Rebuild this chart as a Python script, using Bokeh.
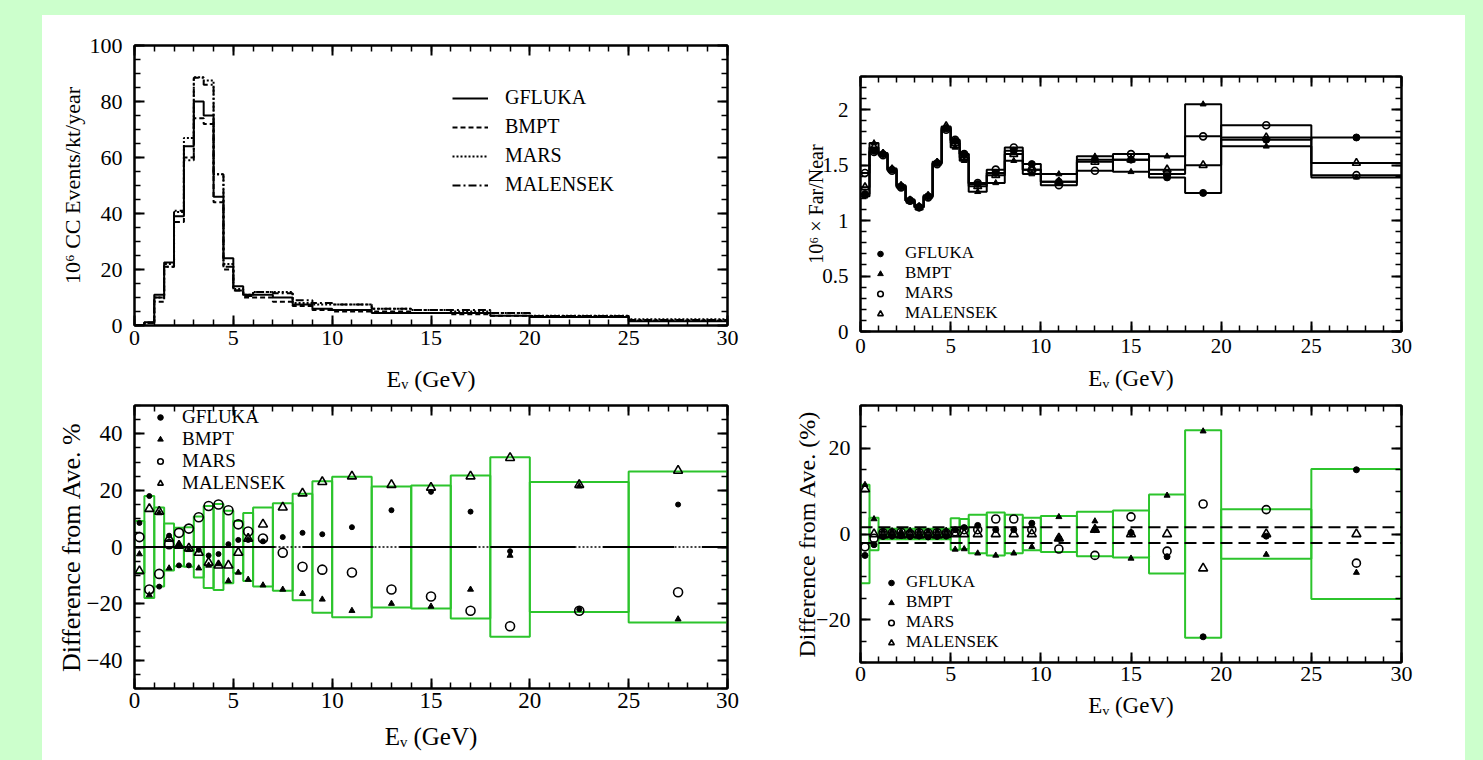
from bokeh.plotting import figure
from bokeh.models import (Range1d, LinearAxis, SingleIntervalTicker, Legend, LegendItem,
                          Span, Spacer, NumeralTickFormatter)
from bokeh.layouts import column, row
from bokeh.embed import file_html
from bokeh.resources import INLINE

# ---------------- data ----------------
bin_edges = [0, 0.5, 1, 1.5, 2, 2.5, 3, 3.5, 4, 4.5, 5, 5.5, 6, 7, 8, 9, 10, 12, 14, 16, 18, 20, 25, 30]
bin_centers = [0.25, 0.75, 1.25, 1.75, 2.25, 2.75, 3.25, 3.75, 4.25, 4.75, 5.25, 5.75,
               6.5, 7.5, 8.5, 9.5, 11, 13, 15, 17, 19, 22.5, 27.5]
models = ["GFLUKA", "BMPT", "MARS", "MALENSEK"]

# top-left: 10^6 CC events / kt / year
rate_gfluka = [0, 1.2, 11, 22.5, 39, 64, 80, 75, 46, 24, 14, 11, 11, 10, 7.5, 6, 5.5, 4.5, 4.5, 4.5, 3.5, 3.0, 1.5]
rate_bmpt = [0, 1.0, 8.5, 21, 37, 60, 74, 72, 44, 20, 12.5, 10, 10, 8.5, 7, 5.5, 5, 5, 4.5, 4, 3.5, 3.2, 1.8]
rate_mars = [0, 1.0, 10, 22, 40.5, 67, 88.7, 87.5, 54, 22, 13, 11, 12, 12, 8, 7.5, 7.5, 6, 5.5, 5, 4.5, 3.5, 2.2]
rate_malensek = [0, 1.0, 10, 21, 41, 59, 88.5, 86, 54, 21, 12.5, 10.5, 12, 11.5, 9, 8, 7.5, 6, 5.5, 5.5, 4.5, 3.4, 2.0]

# top-right: 10^6 x Far/Near
ratio_gfluka = [1.24, 1.63, 1.60, 1.46, 1.31, 1.18, 1.12, 1.22, 1.52, 1.83, 1.72, 1.60, 1.33, 1.43, 1.63, 1.51,
                1.35, 1.55, 1.55, 1.39, 1.25, 1.73, 1.75]
ratio_bmpt = [1.22, 1.70, 1.61, 1.47, 1.32, 1.19, 1.13, 1.23, 1.53, 1.84, 1.66, 1.54, 1.26, 1.34, 1.54, 1.42,
              1.42, 1.58, 1.44, 1.58, 2.05, 1.67, 1.39]
ratio_mars = [1.43, 1.62, 1.59, 1.45, 1.30, 1.18, 1.12, 1.21, 1.51, 1.82, 1.73, 1.60, 1.34, 1.46, 1.66, 1.46,
              1.32, 1.45, 1.60, 1.42, 1.76, 1.86, 1.41]
ratio_malensek = [1.30, 1.66, 1.60, 1.46, 1.31, 1.18, 1.12, 1.22, 1.52, 1.85, 1.70, 1.57, 1.31, 1.41, 1.60, 1.46,
                  1.35, 1.53, 1.55, 1.46, 1.50, 1.75, 1.52]

# bottom-left: difference from average of the event rate (%)
rdiff_gfluka = [8.5, 18, -14, 4, -6.5, -6.5, -1, -3, -2.5, 1, 2.5, 2.5, 2, 3.5, 5, 4.5, 7, 13, 19.5, 12.5, -1.5, -22, 15]
rdiff_bmpt = [-2.5, -17, 12, -7.5, 1, -1, -7.5, -6.5, -6, -12, -9, -11.5, -13.5, -15, -16.5, -18.5, -22.5, -20,
              -21, -15, -3, 21.5, -25.5]
rdiff_mars = [3.5, -15, -9.5, 1, 5, 6.5, 10.5, 14.5, 15, 13, 8, 5.5, 3, -2, -7, -8, -9, -15, -17.5, -22.5, -28,
              -22.5, -16]
rdiff_malensek = [-8.5, 13.5, 12.5, 3, 0.5, -0.5, -2, -5.5, -6.5, -6.5, -2, 3, 8, 14, 19, 23, 25, 22, 21, 25,
                  31.5, 22, 27]
rdiff_box = [9.2, 18, 14, 8.3, 6.8, 7, 10.8, 14.5, 15.2, 12.8, 9.2, 12, 14, 15.5, 18.8, 23.2, 24.8, 21.4, 21.7,
             25.3, 31.7, 23, 26.7]
zero_solid_from = [0, 8.5, 13.4, 18, 23.7, 28.7]
zero_solid_to = [7.1, 12.1, 17.3, 22.3, 27.3, 30]

# bottom-right: difference from average of Far/Near (%)
fdiff_gfluka = [-5, -2.5, -0.6, -0.5, -0.4, -0.6, -0.5, -0.7, -0.6, -0.5, 1, 1.5, 2, 1, 1, 2.5, -1, 1, 0.3,
                -5.3, -24, -0.5, 15]
fdiff_bmpt = [11.5, 3.5, 0.8, 0.7, 0.6, 0.8, 0.7, 0.6, 0.7, 0.8, -3.6, -3.5, -4.5, -5, -4.5, -3, 4, 3, -5.7,
              9, 24, -4.8, -9]
fdiff_mars = [-3, -1, 0.3, 0.2, 0.4, 0.1, 0.3, 0.2, 0.3, 0.2, 0.5, 1, 1, 3.5, 3.5, 1, -3.5, -5, 4, -4, 7, 5.7, -6.8]
fdiff_malensek = [10.5, 0, -0.3, -0.2, -0.3, -0.2, -0.3, -0.2, -0.3, -0.2, 0, 0, 0, 0, 0, 0, -1, 1, 0, 0, -8, 0, 0]
fdiff_box = [11.5, 3.8, 1.2, 1.2, 1.2, 1.2, 1.2, 1.2, 1.2, 1.2, 3.7, 3.5, 4.5, 5, 4.5, 3.8, 4.2, 5.2, 5.5, 9.2,
             24.2, 5.8, 15.2]
fdiff_band_upper = 1.6
fdiff_band_lower = -2.1

# ---------------- style ----------------
FONT = "Liberation Serif"
GREEN = "#2cc42c"
XLABEL = "E\u1d65 (GeV)"


def make_fig(fw, fh, left, right, top, bottom, y0, y1):
    p = figure(frame_width=fw, frame_height=fh, x_range=Range1d(0, 30), y_range=Range1d(y0, y1),
               output_backend="svg", toolbar_location=None, x_axis_type=None, y_axis_type=None,
               min_border_left=left, min_border_right=right, min_border_top=top, min_border_bottom=bottom)
    p.outline_line_color = "black"
    p.outline_line_width = 2
    p.background_fill_color = "white"
    p.border_fill_color = "white"
    return p


def add_axes(p, yint, yminor, tick_fs, ylab_fs, xlab_fs, ylabel, ytick_st, ylab_st, xtick_st, xlab_st, yfmt=None):
    for place in ["below", "above", "left", "right"]:
        horiz = place in ("below", "above")
        if horiz:
            tk = SingleIntervalTicker(interval=5, num_minor_ticks=5)
        else:
            tk = SingleIntervalTicker(interval=yint, num_minor_ticks=yminor)
        ax = LinearAxis(ticker=tk)
        ax.major_tick_in = 10
        ax.major_tick_out = 0
        ax.minor_tick_in = 6
        ax.minor_tick_out = 0
        ax.axis_line_width = 2
        ax.major_tick_line_width = 2
        ax.minor_tick_line_width = 1.5
        ax.axis_line_color = "black"
        ax.major_tick_line_color = "black"
        ax.minor_tick_line_color = "black"
        if place in ("below", "left"):
            ax.major_label_text_font = FONT
            ax.major_label_text_font_size = tick_fs
            ax.major_label_text_color = "black"
            ax.axis_label_text_font = FONT
            ax.axis_label_text_font_style = "normal"
            ax.axis_label_text_color = "black"
            if horiz:
                ax.axis_label = XLABEL
                ax.axis_label_text_font_size = xlab_fs
                ax.major_label_standoff = xtick_st
                ax.axis_label_standoff = xlab_st
            else:
                ax.axis_label = ylabel
                ax.axis_label_text_font_size = ylab_fs
                ax.major_label_standoff = ytick_st
                ax.axis_label_standoff = ylab_st
                if yfmt is not None:
                    ax.formatter = yfmt
        else:
            ax.major_label_text_font_size = "0px"
            ax.major_label_standoff = 0
            ax.major_label_text_alpha = 0
        p.add_layout(ax, place)


def make_legend(p, items, loc, fs, lh, spacing, gw, standoff):
    lg = Legend(items=items, location=loc)
    lg.background_fill_alpha = 0
    lg.border_line_color = None
    lg.padding = 0
    lg.margin = 0
    lg.spacing = spacing
    lg.glyph_width = gw
    lg.glyph_height = lh
    lg.label_height = lh
    lg.label_standoff = standoff
    lg.label_text_font = FONT
    lg.label_text_font_size = fs
    lg.label_text_color = "black"
    p.add_layout(lg)


def closed(vals):
    return list(vals) + [vals[-1]]


# ---------------- panel 1: event rate ----------------
p1 = make_fig(593, 280, 92, 33, 30, 70, 0, 100)
add_axes(p1, 20, 4, "22px", "22px", "24px", "10\u2076 CC Events/kt/year", 12, 2, 5, 18)
dashes = ["solid", "5 3", "2 2", "8 3 2 3"]
rate_series = [rate_gfluka, rate_bmpt, rate_mars, rate_malensek]
items1 = []
for name, vals, dash in zip(models, rate_series, dashes):
    r = p1.step(x=bin_edges, y=closed(vals), mode="after", line_color="black", line_width=2, line_dash=dash)
    items1.append(LegendItem(label=name, renderers=[r]))
make_legend(p1, items1, (318, 129), "20px", 22, 6, 36, 17)

# ---------------- panel 2: far / near ratio ----------------
p2 = make_fig(541, 255, 100, 64, 61, 64, 0, 2.3)
add_axes(p2, 0.5, 5, "21px", "20px", "23px", "10\u2076 \u00d7 Far/Near", 12, -8, 7, 10,
         yfmt=NumeralTickFormatter(format="0.[0]"))
ratio_series = [ratio_gfluka, ratio_bmpt, ratio_mars, ratio_malensek]
for vals in ratio_series:
    p2.step(x=bin_edges, y=closed(vals), mode="after", line_color="black", line_width=2)

marker_styles = [
    dict(marker="circle", fill_color="black", line_color="black"),
    dict(marker="triangle", fill_color="black", line_color="black"),
    dict(marker="circle", fill_color=None, line_color="black", line_width=1.6),
    dict(marker="triangle", fill_color=None, line_color="black", line_width=1.6),
]
sizes2 = [7, 6, 7, 8]
items2 = []
for name, vals, st, sz in zip(models, ratio_series, marker_styles, sizes2):
    r = p2.scatter(x=bin_centers, y=vals, size=sz, **st)
    items2.append(LegendItem(label=name, renderers=[r]))
make_legend(p2, items2, (13, 8), "17px", 17, 0, 14, 18)

# ---------------- panel 3: rate difference ----------------
p3 = make_fig(593, 283, 92, 33, 10, 72, -50, 50)
add_axes(p3, 20, 4, "23px", "26px", "25px", "Difference from Ave. %", 12, -2, 4, 12)
neg_box3 = [-v for v in rdiff_box]
p3.quad(left=bin_edges[:-1], right=bin_edges[1:], bottom=neg_box3, top=rdiff_box,
        fill_color=None, line_color=GREEN, line_width=2)
p3.add_layout(Span(location=0, dimension="width", line_color="black", line_width=1.5, line_dash="2 2"))
p3.segment(x0=zero_solid_from, y0=[0] * len(zero_solid_from), x1=zero_solid_to, y1=[0] * len(zero_solid_to),
           line_color="black", line_width=2)
sizes3 = [5, 6, 9, 9]
rdiff_series = [rdiff_gfluka, rdiff_bmpt, rdiff_mars, rdiff_malensek]
items3 = []
for name, vals, st, sz in zip(models, rdiff_series, marker_styles, sizes3):
    r = p3.scatter(x=bin_centers, y=vals, size=sz, **st)
    items3.append(LegendItem(label=name, renderers=[r]))
make_legend(p3, items3, (19, 194), "19px", 20, 0, 14, 15)

# ---------------- panel 4: far/near difference ----------------
p4 = make_fig(541, 257, 100, 64, 10, 98, -30, 30)
add_axes(p4, 20, 4, "22px", "24px", "23px", "Difference from Ave. (%)", 10, -7, 4, 9)
neg_box4 = [-v for v in fdiff_box]
p4.quad(left=bin_edges[:-1], right=bin_edges[1:], bottom=neg_box4, top=fdiff_box,
        fill_color=None, line_color=GREEN, line_width=2)
p4.add_layout(Span(location=fdiff_band_upper, dimension="width", line_color="black", line_width=2,
                   line_dash="12 6"))
p4.add_layout(Span(location=fdiff_band_lower, dimension="width", line_color="black", line_width=2,
                   line_dash="12 6"))
sizes4 = [6, 6, 8, 9]
fdiff_series = [fdiff_gfluka, fdiff_bmpt, fdiff_mars, fdiff_malensek]
items4 = []
for name, vals, st, sz in zip(models, fdiff_series, marker_styles, sizes4):
    r = p4.scatter(x=bin_centers, y=vals, size=sz, **st)
    items4.append(LegendItem(label=name, renderers=[r]))
make_legend(p4, items4, (24, 10), "17px", 17, 0, 14, 8)

# ---------------- page ----------------
left_col = column(p1, p3, styles={"background-color": "white"})
right_col = column(p2, p4, styles={"background-color": "white"})
body = row(Spacer(width=42), left_col, right_col, Spacer(width=18))
page = column(Spacer(height=15), body, styles={"background-color": "#ccffcc"})

open("out.html", "w").write(file_html(page, INLINE))
